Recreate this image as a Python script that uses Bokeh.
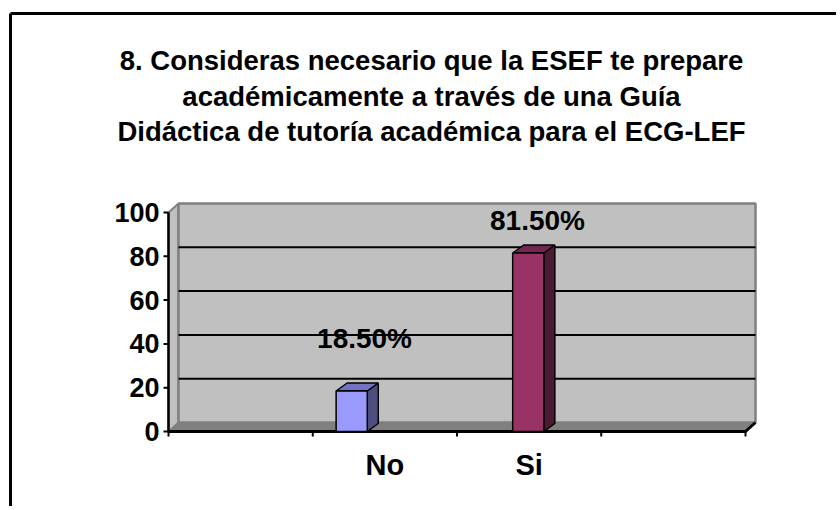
from bokeh.plotting import figure
from bokeh.models import Range1d, Label, ColumnDataSource
from bokeh.embed import file_html
from bokeh.resources import INLINE
from bokeh.core.properties import value

# ---- data ----
title_lines = [
    "8. Consideras necesario que la ESEF te prepare",
    "académicamente a través de una Guía",
    "Didáctica de tutoría académica para el ECG-LEF",
]
categories = ["No", "Si"]
values = [18.5, 81.5]
value_labels = ["18.50%", "81.50%"]
y_ticks = [0, 20, 40, 60, 80, 100]
y_tick_labels = ["0", "20", "40", "60", "80", "100"]
n_slots = 4                     # category slots on the x axis
cat_slots = [1.5, 2.5]          # slot centres of the named categories

# ---- layout / style ----
W, H = 836, 506
OFF = 0                         # page offset of the canvas in the picture
X0, X1 = 168.0, 745.0           # picture px of x=0 and x=n_slots on front axis
Y0, Y100 = 431.0, 212.0         # picture px of y=0 and y=100 on front axis
KX = (X1 - X0) / n_slots
KY = (Y0 - Y100) / 100.0
DX, DY = 10 / KX, 9 / KY        # wall depth
BDX, BDY = 11 / KX, 8 / KY      # bar depth
BAR_W = 0.216
bar_shift = [-0.23, -0.006]
label_dx = [0.089, 0.064]
label_dy = [24.0, 14.8]
FONT = value("Liberation Sans")

def ix(px):
    return (px - X0) / KX

def iy(py):
    return (Y0 - py) / KY

p = figure(width=W, height=H, output_backend="svg", toolbar_location=None,
           x_range=Range1d(ix(OFF), ix(OFF + W)), y_range=Range1d(iy(OFF + H), iy(OFF)),
           min_border=0, min_border_left=0, min_border_right=0,
           min_border_top=0, min_border_bottom=0)
p.axis.visible = False
p.grid.visible = False
p.outline_line_color = None
p.background_fill_color = "white"
p.border_fill_color = "white"

# outer chart border (left and top edges; the rest is outside the picture)
p.segment(x0=[ix(10), ix(10)], y0=[iy(13), iy(13)], x1=[ix(10), ix(860)], y1=[iy(530), iy(13)],
          line_color="black", line_width=3)

# side wall
p.patch([0, DX, DX, 0], [0, DY, 100 + DY, 100], fill_color="#C0C0C0",
        line_color="#808080", line_width=2)
# back wall
p.patch([DX, n_slots + DX, n_slots + DX, DX], [DY, DY, 100 + DY, 100 + DY],
        fill_color="#C0C0C0", line_color="#808080", line_width=2.5)
# floor
p.patch([0, n_slots, n_slots + DX, DX], [0, 0, DY, DY], fill_color="#808080",
        line_color="#808080", line_width=1)

# gridlines on back wall
grid_vals = y_ticks[1:-1]
p.segment(x0=[DX] * len(grid_vals), y0=[g + DY for g in grid_vals],
          x1=[n_slots + DX] * len(grid_vals), y1=[g + DY for g in grid_vals],
          line_color="black", line_width=2)

# axes lines
p.line([0, 0], [0, 100], line_color="black", line_width=2.5)
p.line([0, n_slots, n_slots + DX], [0, 0, DY], line_color="black", line_width=3)
# y ticks
tk = 5 / KX
p.segment(x0=[-tk] * len(y_ticks), y0=y_ticks, x1=[0] * len(y_ticks), y1=y_ticks,
          line_color="black", line_width=2)
# x ticks
xt = list(range(n_slots + 1))
tky = 5 / KY
p.segment(x0=xt, y0=[0] * len(xt), x1=xt, y1=[-tky] * len(xt),
          line_color="black", line_width=2)

# bars (3D columns)
fronts = ["#9999FF", "#993366"]
sides = ["#4D4D80", "#4D1A33"]
tops = ["#7373BF", "#732650"]
for i, v in enumerate(values):
    c = cat_slots[i] + bar_shift[i]
    l, r = c - BAR_W / 2, c + BAR_W / 2
    p.patch([r, r + BDX, r + BDX, r], [0, BDY, v + BDY, v], fill_color=sides[i],
            line_color="black", line_width=1.5)
    p.patch([l, r, r + BDX, l + BDX], [v, v, v + BDY, v + BDY], fill_color=tops[i],
            line_color="black", line_width=1.5)
    p.quad(left=[l], right=[r], bottom=[0], top=[v], fill_color=fronts[i],
           line_color="black", line_width=1.5)

# y tick labels
src_y = ColumnDataSource(dict(x=[ix(159)] * len(y_ticks), y=y_ticks, t=y_tick_labels))
p.text(x="x", y="y", text="t", source=src_y, text_align="right", text_baseline="middle",
       text_font=FONT, text_font_style="bold", text_font_size="27px", text_color="black")

# category labels
src_c = ColumnDataSource(dict(x=cat_slots, y=[iy(464)] * len(categories), t=categories))
p.text(x="x", y="y", text="t", source=src_c, text_align="center", text_baseline="middle",
       text_font=FONT, text_font_style="bold", text_font_size="29px", text_color="black")

# value labels
src_v = ColumnDataSource(dict(
    x=[cat_slots[i] + bar_shift[i] + label_dx[i] for i in range(len(values))],
    y=[values[i] + label_dy[i] for i in range(len(values))], t=value_labels))
p.text(x="x", y="y", text="t", source=src_v, text_align="center", text_baseline="middle",
       text_font=FONT, text_font_style="bold", text_font_size="28px", text_color="black")

# title
title_y = [60, 96, 131]
for line, ty in zip(title_lines, title_y):
    p.add_layout(Label(x=431 - OFF, y=H - (ty - OFF), x_units="screen", y_units="screen",
                       text=line, text_align="center", text_baseline="middle",
                       text_font="Liberation Sans", text_font_style="bold",
                       text_font_size="27.5px", text_color="black"))

open("out.html", "w").write(file_html(p, INLINE))
